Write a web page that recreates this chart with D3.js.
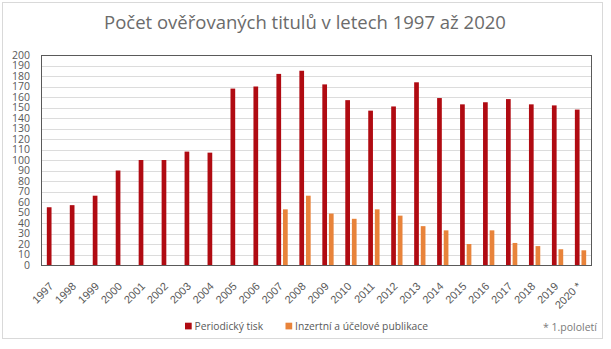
<!DOCTYPE html>
<html>
<head>
<meta charset="utf-8">
<script src="https://cdn.jsdelivr.net/npm/d3@7"></script>
<style>
  html, body { margin: 0; padding: 0; background: #fff; }
  svg { display: block; font-family: "Open Sans", "Liberation Sans", sans-serif; }
</style>
</head>
<body>
<svg id="chart" width="611" height="349"></svg>
<script>
// Years shown on the category axis
const years = ["1997","1998","1999","2000","2001","2002","2003","2004","2005","2006",
  "2007","2008","2009","2010","2011","2012","2013","2014","2015","2016",
  "2017","2018","2019","2020 *"];
// Periodical titles audited per year
const periodicky = [55,57,66,90,100,100,108,107,168,170,182,185,172,157,147,151,174,159,153,155,158,153,152,148];
// Advertising and special-purpose publications (tracked from 2007)
const inzertni = [null,null,null,null,null,null,null,null,null,null,53,66,49,44,53,47,37,33,20,33,21,18,15,14];
const yTicks = d3.range(0, 201, 10);
const seriesNames = ["Periodický tisk", "Inzertní a účelové publikace"];
const seriesColors = ["#b00b12", "#e8833a"];

const svg = d3.select("#chart");
const plot = { left: 41, top: 55, right: 592, bottom: 265 };

// outer frame
svg.append("rect").attr("x", 2.5).attr("y", 2.5).attr("width", 600).attr("height", 336)
  .attr("fill", "#fff").attr("stroke", "#d9d9d9");

// title
svg.append("text").attr("x", 305).attr("y", 29).attr("text-anchor", "middle")
  .attr("font-size", 18.5).attr("fill", "#6b6b6b")
  .text("Počet ověřovaných titulů v letech 1997 až 2020");

const x = d3.scaleBand().domain(years).range([plot.left, plot.right]).paddingInner(0).paddingOuter(0);
const y = d3.scaleLinear().domain([0, 200]).range([plot.bottom, plot.top]);

// horizontal gridlines
svg.append("g").selectAll("line").data(yTicks.filter(d => d > 0 && d < 200)).join("line")
  .attr("x1", plot.left).attr("x2", plot.right)
  .attr("y1", d => Math.round(y(d)) + 0.5).attr("y2", d => Math.round(y(d)) + 0.5)
  .attr("stroke", "#dcdcdc").attr("stroke-width", 1);

// bars
const barW = 4.7, gap = 1.9;
svg.append("g").selectAll("rect").data(periodicky.map((v, i) => ({ k: years[i], v }))).join("rect")
  .attr("x", d => x(d.k) + x.bandwidth() / 2 - gap / 2 - barW)
  .attr("width", barW)
  .attr("y", d => y(d.v)).attr("height", d => y(0) - y(d.v))
  .attr("fill", seriesColors[0]);
svg.append("g").selectAll("rect").data(inzertni.map((v, i) => ({ k: years[i], v })).filter(d => d.v != null)).join("rect")
  .attr("x", d => x(d.k) + x.bandwidth() / 2 + gap / 2)
  .attr("width", barW)
  .attr("y", d => y(d.v)).attr("height", d => y(0) - y(d.v))
  .attr("fill", seriesColors[1]);

// plot frame
svg.append("rect").attr("x", plot.left + 0.5).attr("y", plot.top + 0.5)
  .attr("width", plot.right - plot.left - 1).attr("height", plot.bottom - plot.top)
  .attr("fill", "none").attr("stroke", "#5a5a5a").attr("stroke-width", 1);

// y axis labels
const yAxis = d3.axisLeft(y).tickValues(yTicks).tickSize(0).tickPadding(11);
const gy = svg.append("g").attr("transform", `translate(${plot.left},0)`).call(yAxis);
gy.select(".domain").remove();
gy.selectAll("text").attr("font-size", 10.5).attr("fill", "#595959")
  .attr("font-family", "'Open Sans', sans-serif");

// x axis labels, rotated
const xAxis = d3.axisBottom(x).tickSize(0).tickPadding(0);
const gx = svg.append("g").attr("transform", `translate(0,${plot.bottom})`).call(xAxis);
gx.select(".domain").remove();
gx.selectAll("text")
  .attr("font-size", 11).attr("fill", "#595959")
  .attr("text-anchor", "end")
  .attr("dy", 0)
  .attr("transform", "translate(1.5,22) rotate(-45)");

// legend
const legend = svg.append("g");
const items = [{ x: 185, name: seriesNames[0], c: seriesColors[0] },
               { x: 285.5, name: seriesNames[1], c: seriesColors[1] }];
items.forEach(it => {
  legend.append("rect").attr("x", it.x).attr("y", 322.7).attr("width", 6.7).attr("height", 6.7).attr("fill", it.c);
  legend.append("text").attr("x", it.x + 9.5).attr("y", 330).attr("font-size", 10.3)
    .attr("fill", "#595959").text(it.name);
});

// footnote
svg.append("text").attr("x", 597).attr("y", 331).attr("text-anchor", "end")
  .attr("font-size", 10.5).attr("fill", "#7a7a7a").text("* 1.pololetí");
</script>
</body>
</html>
